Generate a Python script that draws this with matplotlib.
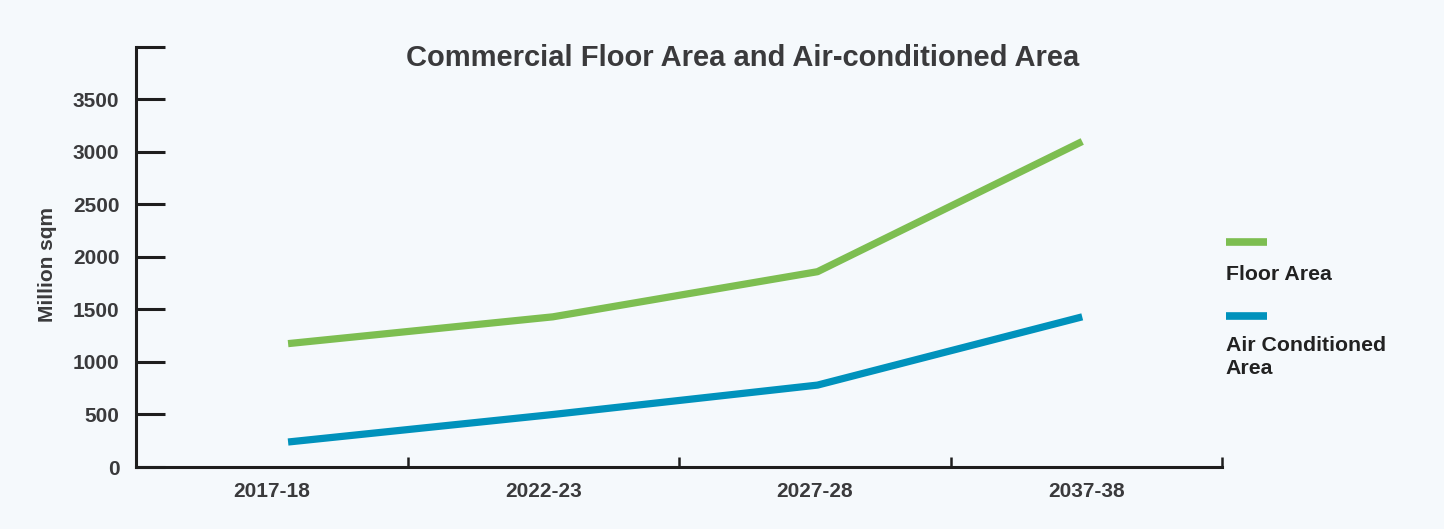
import numpy as np
import matplotlib
matplotlib.use("Agg")
import matplotlib.pyplot as plt
from matplotlib.lines import Line2D

plt.rcParams['font.family'] = ['Liberation Sans', 'DejaVu Sans']
plt.rcParams['font.weight'] = 'bold'

years = ['2017-18', '2022-23', '2027-28', '2037-38']
floor_area = [1175, 1430, 1860, 3100]
ac_area = [238, 500, 780, 1430]
y_ticks = [0, 500, 1000, 1500, 2000, 2500, 3000, 3500, 4000]

bg = '#F5F9FC'
text_col = '#3A3A3C'
green = '#7DBE51'
blue = '#0092BC'

fig = plt.figure(figsize=(14.44, 5.29), dpi=100, facecolor=bg)
ax = fig.add_axes([0.0942, 0.1172, 0.7521, 0.794])
ax.set_facecolor(bg)

# lines sit slightly inside each category slot
xpos = np.arange(len(years)) * 0.975 + 0.06
ax.plot(xpos, floor_area, color=green, lw=5.2, solid_capstyle='butt')
ax.plot(xpos, ac_area, color=blue, lw=5.2, solid_capstyle='butt')

ax.set_xlim(-0.5, len(years) - 0.5)
ax.set_ylim(0, 4000)

for side in ['top', 'right']:
    ax.spines[side].set_visible(False)
for side in ['left', 'bottom']:
    ax.spines[side].set_linewidth(2.2)
    ax.spines[side].set_color('#1E1E1E')

ax.set_yticks(y_ticks)
ax.set_yticklabels([str(v) if v < 4000 else '' for v in y_ticks])
ax.tick_params(axis='y', direction='in', length=21, width=2.2, color='#1E1E1E',
               pad=12, labelsize=15, labelcolor=text_col)

ax.set_xticks(np.arange(len(years)))
ax.set_xticklabels(years)
ax.set_xticks(np.arange(len(years)) + 0.5, minor=True)
ax.tick_params(axis='x', which='major', length=0, pad=11, labelsize=15, labelcolor=text_col)
ax.tick_params(axis='x', which='minor', direction='in', length=7, width=1.8, color='#1E1E1E')

ax.set_ylabel('Million sqm', fontsize=15, fontweight='bold', color=text_col)
ax.yaxis.set_label_coords(-0.073, 0.481)
ax.set_title('Commercial Floor Area and Air-conditioned Area', fontsize=21,
             fontweight='bold', color=text_col, pad=-14, x=0.559, y=1.0)

# legend on the right: swatch above each label
fig.add_artist(Line2D([0.849, 0.8775], [1 - 242 / 529] * 2, color=green, lw=5.5,
                      transform=fig.transFigure, solid_capstyle='butt'))
fig.text(0.849, 1 - 275 / 529, 'Floor Area', fontsize=15.3, color='#222222', va='center')
fig.add_artist(Line2D([0.849, 0.8775], [1 - 316 / 529] * 2, color=blue, lw=5.5,
                      transform=fig.transFigure, solid_capstyle='butt'))
fig.text(0.849, 1 - 357 / 529, 'Air Conditioned\nArea', fontsize=15.3, color='#222222',
         va='center', linespacing=1.32)

fig.savefig('out.png', dpi=100, facecolor=bg)
